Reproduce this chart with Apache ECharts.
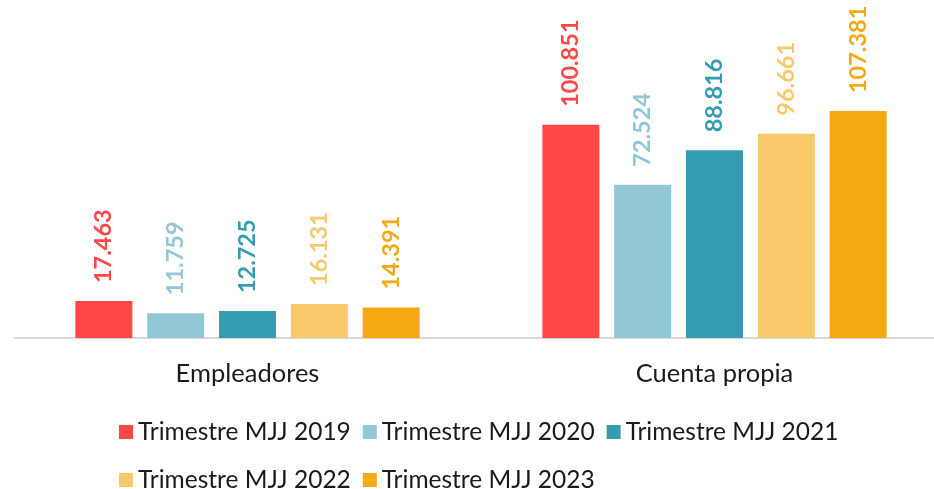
<!DOCTYPE html>
<html style="height: 100%">
<head>
    <meta charset="utf-8">
</head>
<body style="height: 100%; margin: 0; background-color: #fff;">
<div id="container" style="width: 934px; height: 489px"></div>
<script type="text/javascript" src="https://cdn.jsdelivr.net/npm/echarts@6/dist/echarts.min.js"></script>
<script type="text/javascript">
    var categories = ['Empleadores', 'Cuenta propia'];
    var seriesNames = ['Trimestre MJJ 2019', 'Trimestre MJJ 2020', 'Trimestre MJJ 2021', 'Trimestre MJJ 2022', 'Trimestre MJJ 2023'];
    var mjj2019 = [17463, 100851];
    var mjj2020 = [11759, 72524];
    var mjj2021 = [12725, 88816];
    var mjj2022 = [16131, 96661];
    var mjj2023 = [14391, 107381];
    var colors = ['#FF4747', '#92C8D5', '#359CB4', '#F8C96A', '#F5A914'];

    var dom = document.getElementById("container");
    var myChart = echarts.init(dom);

    // 17463 -> "17.463"
    function fmt(v) {
        return String(v).replace(/\B(?=(\d{3})+(?!\d))/g, '.');
    }

    var allData = [mjj2019, mjj2020, mjj2021, mjj2022, mjj2023];
    var series = allData.map(function(d, i) {
        return {
            name: seriesNames[i],
            type: 'bar',
            data: d,
            barWidth: 57,
            barGap: '26%',
            itemStyle: {color: colors[i]},
            label: {
                show: true,
                position: 'top',
                distance: 18,
                rotate: 90,
                align: 'left',
                verticalAlign: 'middle',
                color: colors[i],
                fontFamily: 'Lato',
                fontWeight: 'bold',
                fontSize: 23.5,
                formatter: function(p) { return fmt(p.value); }
            }
        };
    });

    var option = {
        animation: false,
        color: colors,
        grid: {
            left: 14,
            width: 934,
            top: 40,
            bottom: 151,
            outerBoundsMode: 'none'
        },
        legend: {
            left: 114,
            top: 409,
            width: 760,
            icon: 'rect',
            itemWidth: 14,
            itemHeight: 14,
            itemGap: 12,
            textStyle: {
                fontFamily: 'Lato',
                fontSize: 24.5,
                color: '#1a1a1a',
                lineHeight: 36
            },
            data: seriesNames
        },
        xAxis: {
            type: 'category',
            data: categories,
            axisLine: {lineStyle: {color: '#d9d9d9', width: 2}},
            axisTick: {show: false},
            axisLabel: {
                margin: 23,
                fontFamily: 'Lato',
                fontSize: 25.5,
                color: '#1a1a1a'
            }
        },
        yAxis: {
            type: 'value',
            min: 0,
            max: 141000,
            show: false
        },
        series: series
    };
    myChart.setOption(option);
</script>
</body>
</html>
